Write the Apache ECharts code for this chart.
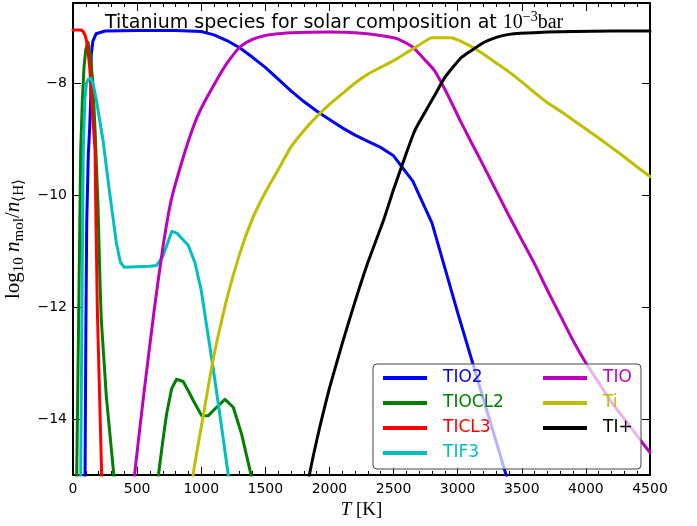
<!DOCTYPE html>
<html>
<head>
<meta charset="utf-8">
<title>Titanium species</title>
<script src="https://cdn.jsdelivr.net/npm/echarts@6/dist/echarts.min.js"></script>
<style>
  html, body { margin: 0; padding: 0; background: #fff; }
  #chart { width: 697px; height: 526px; }
</style>
</head>
<body>
<div id="chart"></div>
<script>
// Species names as shown in the legend
const speciesNames = ['TIO2', 'TIOCL2', 'TICL3', 'TIF3', 'TIO', 'Ti', 'TI+'];
const speciesColors = ['#0000ff', '#008000', '#ff0000', '#00bfbf', '#bf00bf', '#bfbf00', '#000000'];
// Curves that are drawn with gentle smoothing
const speciesSmooth = [0, 0, 0, 0, 0.2, 0.2, 0.15];

// Temperature grid [K] and log10 abundance for each species
const tio2T   = [80, 94, 100, 107, 119, 130, 138, 142, 155, 180, 250, 500, 800, 1000, 1100, 1200, 1300, 1400, 1500, 1600, 1700, 1800, 1900, 2000, 2100, 2200, 2300, 2400, 2500, 2650, 2800, 2900, 3000, 3100, 3200, 3300, 3400];
const tio2Val = [-17, -15.0, -12.5, -10.5, -9.3, -8.8, -8.3, -7.5, -7.25, -7.12, -7.07, -7.06, -7.06, -7.08, -7.14, -7.24, -7.37, -7.54, -7.72, -7.93, -8.14, -8.33, -8.5, -8.65, -8.8, -8.93, -9.04, -9.15, -9.3, -9.75, -10.5, -11.3, -12.1, -12.87, -13.64, -14.4, -15.17];

const tiocl2T   = [20, 29, 45, 60, 73, 86, 100, 117, 135, 155, 175, 195, 210, 220, 260, 320, 400, 600, 664, 700, 730, 769, 808, 859, 900, 938, 1003, 1055, 1120, 1185, 1250, 1315, 1393, 1450];
const tiocl2Val = [-17, -15.0, -12.0, -9.2, -8.31, -7.71, -7.4, -7.27, -7.5, -8.0, -9.0, -10.2, -11.5, -12.2, -13.6, -15.04, -17, -17, -15.04, -14.4, -13.91, -13.46, -13.29, -13.33, -13.5, -13.67, -13.94, -13.94, -13.79, -13.65, -13.79, -14.27, -15.04, -16];

const ticl3T   = [0, 60, 80, 95, 105, 118, 130, 140, 151, 160, 172, 180, 190, 207, 224, 240];
const ticl3Val = [-7.05, -7.05, -7.08, -7.15, -7.24, -7.45, -7.71, -8.05, -8.49, -8.8, -9.2, -10.6, -12.07, -13.55, -15.04, -16.5];

const tif3T   = [50, 60, 70, 80, 92, 105, 120, 140, 160, 183, 234, 287, 339, 370, 400, 500, 600, 650, 700, 770, 810, 900, 950, 1000, 1050, 1100, 1150, 1211, 1260];
const tif3Val = [-17, -15.0, -12.0, -9.2, -8.3, -8.0, -7.93, -7.92, -8.05, -8.31, -9.02, -9.98, -10.87, -11.2, -11.29, -11.28, -11.27, -11.26, -11.1, -10.65, -10.68, -10.9, -11.2, -11.7, -12.45, -13.2, -14.0, -15.0, -15.8];

const tioT   = [440, 480, 550, 633, 700, 765, 850, 937, 1000, 1120, 1200, 1300, 1400, 1500, 1600, 1700, 2000, 2200, 2400, 2530, 2650, 2750, 2820, 2920, 3020, 3100, 3200, 3300, 3400, 3500, 3600, 3700, 3800, 3900, 4000, 4100, 4200, 4300, 4400, 4500];
const tioVal = [-16, -15.0, -13.6, -12.06, -10.95, -10.1, -9.4, -8.79, -8.45, -7.95, -7.65, -7.36, -7.22, -7.15, -7.12, -7.1, -7.09, -7.1, -7.15, -7.21, -7.36, -7.6, -7.78, -8.2, -8.67, -9.03, -9.47, -9.92, -10.37, -10.8, -11.23, -11.7, -12.15, -12.6, -13.0, -13.35, -13.7, -14.0, -14.3, -14.6];

const tiT   = [900, 937, 1016, 1081, 1100, 1200, 1300, 1400, 1500, 1600, 1700, 1800, 1900, 2000, 2100, 2200, 2300, 2400, 2500, 2600, 2700, 2800, 2950, 3000, 3100, 3200, 3300, 3400, 3500, 3600, 3700, 3800, 3900, 4000, 4100, 4200, 4300, 4400, 4500];
const tiVal = [-16, -15.0, -13.94, -13.08, -12.85, -11.85, -11.05, -10.42, -9.95, -9.55, -9.14, -8.85, -8.6, -8.38, -8.19, -8.0, -7.84, -7.72, -7.6, -7.46, -7.32, -7.19, -7.19, -7.23, -7.34, -7.48, -7.64, -7.8, -7.98, -8.17, -8.35, -8.5, -8.66, -8.82, -8.98, -9.15, -9.32, -9.5, -9.67];

const tiplusT   = [1800, 1844, 1927, 2000, 2100, 2200, 2300, 2422, 2500, 2600, 2656, 2700, 2813, 2900, 3021, 3100, 3200, 3307, 3400, 3490, 3700, 3906, 4200, 4500];
const tiplusVal = [-16, -15.0, -14.12, -13.45, -12.65, -11.9, -11.2, -10.45, -9.9, -9.25, -8.9, -8.7, -8.25, -7.9, -7.56, -7.43, -7.28, -7.18, -7.13, -7.11, -7.09, -7.08, -7.07, -7.07];

// Axis ticks
const yTickValues = [-14, -12, -10, -8];
const xTickStep = 500;

const seriesT = [tio2T, tiocl2T, ticl3T, tif3T, tioT, tiT, tiplusT];
const seriesVal = [tio2Val, tiocl2Val, ticl3Val, tif3Val, tioVal, tiVal, tiplusVal];

function pairs(xs, ys) {
  return xs.map((x, i) => [x, ys[i]]);
}

const fmtMinus = v => String(v).replace('-', '\u2212');

const chart = echarts.init(document.getElementById('chart'), null, { renderer: 'canvas' });

const series = speciesNames.map((name, i) => ({
  name: name,
  type: 'line',
  data: pairs(seriesT[i], seriesVal[i]),
  showSymbol: false,
  symbol: 'none',
  clip: true,
  smooth: speciesSmooth[i] || false,
  color: speciesColors[i],
  lineStyle: { width: 3, color: speciesColors[i], join: 'round', cap: 'round' },
  emphasis: { disabled: true },
  z: 2 + i * 0.01
}));

const legendText = { fontFamily: 'DejaVu Sans', fontSize: 17, lineHeight: 20, padding: [0, 0, 0, 11] };
function legendBlock(names, left) {
  return {
    show: true,
    orient: 'vertical',
    left: left,
    top: 368,
    padding: 0,
    itemGap: 5,
    itemWidth: 44,
    itemHeight: 4,
    icon: 'rect',
    selectedMode: false,
    textStyle: legendText,
    data: names.map(n => ({
      name: n,
      textStyle: { color: speciesColors[speciesNames.indexOf(n)] }
    })),
    z: 10
  };
}

const axisLineStyle = { show: true, onZero: false, lineStyle: { color: '#000', width: 2 } };
const majorTick = { show: true, inside: true, length: 8, lineStyle: { color: '#000', width: 1 } };
const minorTick = { show: true, splitNumber: 5, length: 4, lineStyle: { color: '#000', width: 1 } };

chart.setOption({
  animation: false,
  backgroundColor: '#ffffff',
  grid: { left: 73, right: 47, top: 3, bottom: 51, containLabel: false, outerBoundsMode: 'none' },
  title: {
    text: '{a|Titanium species for solar composition at }{n|10}{s|\u22123}{n|bar}',
    left: 100,
    top: 5,
    textStyle: {
      fontWeight: 'normal',
      rich: {
        a: { fontFamily: 'DejaVu Sans', fontWeight: 'normal', fontSize: 19, color: '#000', lineHeight: 26, verticalAlign: 'middle' },
        n: { fontFamily: 'Liberation Serif', fontWeight: 'normal', fontSize: 20, color: '#000', lineHeight: 26, verticalAlign: 'middle' },
        s: { fontFamily: 'Liberation Serif', fontWeight: 'normal', fontSize: 14, color: '#000', lineHeight: 12, verticalAlign: 'top' }
      }
    },
    z: 20
  },
  legend: [
    legendBlock(['TIO2', 'TIOCL2', 'TICL3', 'TIF3'], 383),
    legendBlock(['TIO', 'Ti', 'TI+'], 543)
  ],
  graphic: [{
    type: 'rect',
    shape: { x: 373, y: 364, width: 268, height: 105, r: 4 },
    style: { fill: 'rgba(255,255,255,0.7)', stroke: '#444', lineWidth: 1 },
    z: 5
  }],
  xAxis: [{
    type: 'value',
    min: 0, max: 4500, interval: xTickStep,
    position: 'bottom',
    name: '{i|T}{r| [K]}',
    nameLocation: 'middle',
    nameGap: 22,
    nameTextStyle: {
      rich: {
        i: { fontFamily: 'Liberation Serif', fontStyle: 'italic', fontSize: 19, color: '#000' },
        r: { fontFamily: 'Liberation Serif', fontSize: 19, color: '#000' }
      }
    },
    axisLine: axisLineStyle,
    axisTick: majorTick,
    minorTick: minorTick,
    axisLabel: { fontFamily: 'DejaVu Sans', fontSize: 14, color: '#000', margin: 7, formatter: v => String(v) },
    splitLine: { show: false },
    minorSplitLine: { show: false }
  }, {
    type: 'value',
    min: 0, max: 4500, interval: xTickStep,
    position: 'top',
    axisLine: axisLineStyle,
    axisTick: majorTick,
    minorTick: minorTick,
    axisLabel: { show: false },
    splitLine: { show: false }
  }],
  yAxis: [{
    type: 'value',
    min: -15, max: -6.57,
    position: 'left',
    name: '{r|log}{sub|10}{r| }{i|n}{sub|mol}{r|/}{i|n}{sub|\u27e8H\u27e9}',
    nameLocation: 'middle',
    nameRotate: 90,
    nameGap: 33,
    nameTextStyle: {
      rich: {
        r: { fontFamily: 'Liberation Serif', fontSize: 21, color: '#000', lineHeight: 26, verticalAlign: 'middle' },
        i: { fontFamily: 'Liberation Serif', fontStyle: 'italic', fontSize: 21, color: '#000', lineHeight: 26, verticalAlign: 'middle' },
        sub: { fontFamily: 'Liberation Serif', fontSize: 15, color: '#000', lineHeight: 13, verticalAlign: 'bottom' }
      }
    },
    axisLine: axisLineStyle,
    axisTick: Object.assign({ customValues: yTickValues }, majorTick),
    axisLabel: { fontFamily: 'DejaVu Sans', fontSize: 14, color: '#000', margin: 6, customValues: yTickValues, formatter: fmtMinus },
    splitLine: { show: false }
  }, {
    type: 'value',
    min: -15, max: -6.57,
    position: 'right',
    axisLine: axisLineStyle,
    axisTick: Object.assign({ customValues: yTickValues }, majorTick),
    axisLabel: { show: false },
    splitLine: { show: false }
  }],
  series: series
});
</script>
</body>
</html>
